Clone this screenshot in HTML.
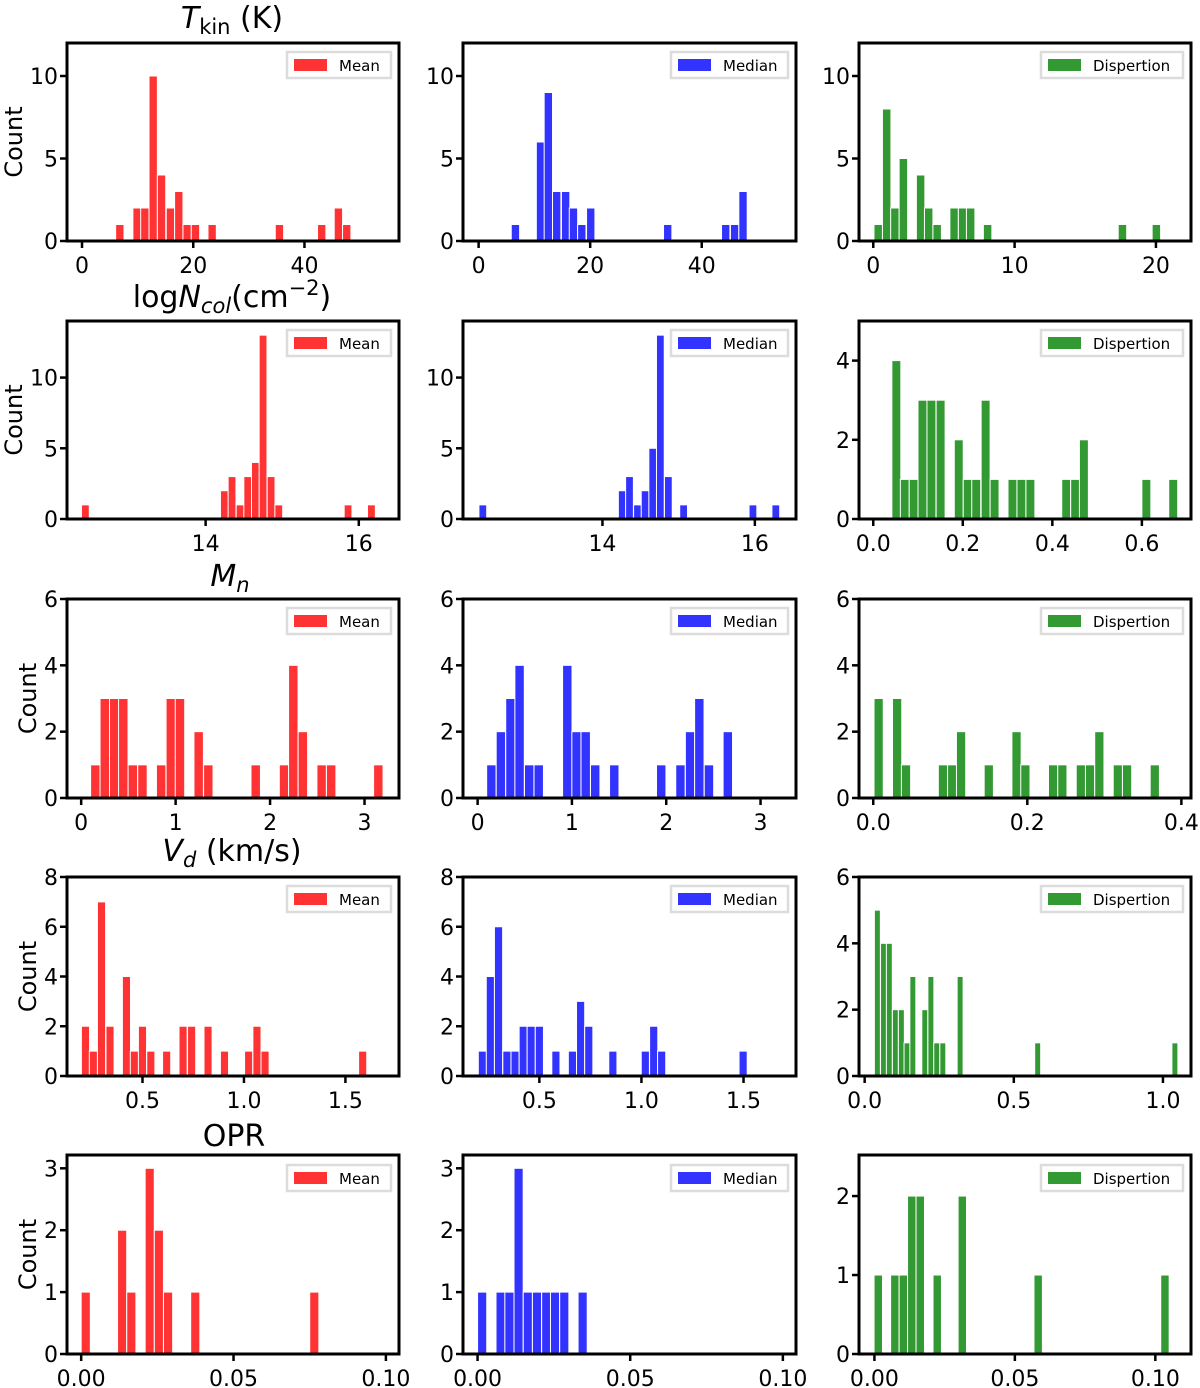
<!DOCTYPE html>
<html><head><meta charset="utf-8"><style>
html,body{margin:0;padding:0;background:#fff;}
svg{display:block;font-family:"DejaVu Sans","Liberation Sans",sans-serif;}
</style></head><body>
<svg id="fig" width="1200" height="1388" viewBox="0 0 1200 1388" xmlns="http://www.w3.org/2000/svg"></svg>
<script>
// ---- data (bin centers and counts) ----
const tkinMeanX = [6.8,9.9,11.3,12.8,14.3,15.9,17.4,18.9,20.4,23.4,35.5,43.1,46.1,47.6];
const tkinMeanY = [1,2,2,10,4,2,3,1,1,1,1,1,2,1];
const tkinMedX = [6.6,11.1,12.5,14.0,15.6,17.0,18.5,20.1,33.9,44.3,45.9,47.4];
const tkinMedY = [1,6,9,3,3,2,1,2,1,1,1,3];
const tkinDispX = [0.35,0.95,1.53,2.13,3.35,3.92,4.52,5.72,6.32,6.89,8.09,17.63,20.03];
const tkinDispY = [1,8,2,5,4,2,1,2,2,2,1,1,1];
const ncolMeanX = [12.43,14.245,14.345,14.45,14.55,14.65,14.75,14.855,14.955,15.86,16.165];
const ncolMeanY = [1,2,3,1,3,4,13,3,1,1,1];
const ncolMedX = [12.43,14.26,14.355,14.46,14.56,14.66,14.76,14.865,15.065,15.975,16.275];
const ncolMedY = [1,2,3,1,2,5,13,3,1,1,1];
const ncolDispX = [0.0516,0.0705,0.0903,0.110,0.130,0.1505,0.191,0.211,0.230,0.251,0.271,0.311,0.331,0.351,0.431,0.451,0.4705,0.610,0.670];
const ncolDispY = [4,1,1,3,3,3,2,1,1,3,1,1,1,1,1,1,2,1,1];
const mnMeanX = [0.15,0.25,0.35,0.446,0.547,0.649,0.847,0.949,1.046,1.244,1.346,1.848,2.148,2.246,2.347,2.546,2.647,3.146];
const mnMeanY = [1,3,3,3,1,1,1,3,3,2,1,1,1,4,2,1,1,1];
const mnMedX = [0.146,0.247,0.348,0.445,0.547,0.648,0.951,1.049,1.146,1.247,1.449,1.947,2.151,2.253,2.351,2.453,2.653];
const mnMedY = [1,2,3,4,1,1,4,2,2,1,1,1,1,2,3,1,2];
const mnDispX = [0.007,0.031,0.0425,0.0905,0.1025,0.114,0.15,0.186,0.1975,0.2335,0.2455,0.2695,0.2815,0.2935,0.3175,0.3295,0.3655];
const mnDispY = [3,3,1,1,1,2,1,2,1,1,1,1,1,2,1,1,1];
const vdMeanX = [0.219,0.258,0.298,0.340,0.421,0.460,0.5,0.541,0.619,0.700,0.742,0.823,0.904,1.023,1.064,1.104,1.585];
const vdMeanY = [2,1,7,2,4,1,2,1,1,2,2,2,1,1,2,1,1];
const vdMedX = [0.221,0.260,0.300,0.341,0.381,0.421,0.460,0.5,0.581,0.662,0.702,0.742,0.86,1.019,1.06,1.099,1.498];
const vdMedY = [1,4,6,1,1,2,2,2,1,1,3,2,1,1,2,1,1];
const vdDispX = [0.0426,0.0633,0.0827,0.103,0.123,0.142,0.1615,0.2016,0.222,0.2416,0.262,0.320,0.580,1.040];
const vdDispY = [5,4,4,2,2,1,3,2,3,1,1,3,1,1];
const oprMeanX = [0.0015,0.01344,0.01646,0.02249,0.0255,0.02852,0.03744,0.0765];
const oprMeanY = [1,2,1,3,2,1,1,1];
const oprMedX = [0.0015,0.00754,0.01043,0.01344,0.01646,0.01947,0.02249,0.02538,0.0284,0.03442];
const oprMedY = [1,1,1,3,1,1,1,1,1,1];
const oprDispX = [0.00137,0.00727,0.01029,0.0133,0.01632,0.02236,0.03128,0.0583,0.10343];
const oprDispY = [1,1,1,2,2,1,2,1,1];

const binW = [1.5,1.5,0.6, 0.102,0.102,0.02, 0.1,0.1,0.012, 0.04,0.04,0.02, 0.003,0.003,0.003];
const xTicks = [[0,20,40],[0,20,40],[0,10,20],[14,16],[14,16],[0,0.2,0.4,0.6],[0,1,2,3],[0,1,2,3],[0,0.2,0.4],[0.5,1.0,1.5],[0.5,1.0,1.5],[0,0.5,1.0],[0,0.05,0.1],[0,0.05,0.1],[0,0.05,0.1]];
const xTickLabels = [["0","20","40"],["0","20","40"],["0","10","20"],["14","16"],["14","16"],["0.0","0.2","0.4","0.6"],["0","1","2","3"],["0","1","2","3"],["0.0","0.2","0.4"],["0.5","1.0","1.5"],["0.5","1.0","1.5"],["0.0","0.5","1.0"],["0.00","0.05","0.10"],["0.00","0.05","0.10"],["0.00","0.05","0.10"]];
const yTicks = [[0,5,10],[0,5,10],[0,5,10],[0,5,10],[0,5,10],[0,2,4],[0,2,4,6],[0,2,4,6],[0,2,4,6],[0,2,4,6,8],[0,2,4,6,8],[0,2,4,6],[0,1,2,3],[0,1,2,3],[0,1,2]];
const xLims = [[-2.7,57.0],[-2.8,56.9],[-1.01,22.48],[12.19,16.525],[12.17,16.54],[-0.0318,0.7097],[-0.15,3.365],[-0.155,3.376],[-0.0185,0.4125],[0.128,1.764],[0.126,1.757],[-0.019,1.094],[-0.00465,0.1043],[-0.00477,0.1043],[-0.00549,0.1127]];
const yMax = [12,12,12,14,14,5,6,6,6,8,8,6,3.215,3.215,2.52];
const seriesX = [tkinMeanX,tkinMedX,tkinDispX,ncolMeanX,ncolMedX,ncolDispX,mnMeanX,mnMedX,mnDispX,vdMeanX,vdMedX,vdDispX,oprMeanX,oprMedX,oprDispX];
const seriesY = [tkinMeanY,tkinMedY,tkinDispY,ncolMeanY,ncolMedY,ncolDispY,mnMeanY,mnMedY,mnDispY,vdMeanY,vdMedY,vdDispY,oprMeanY,oprMedY,oprDispY];
const legendLabels = ["Mean","Median","Dispertion"];

// ---- layout ----
const colX = [[67,399],[463,796],[859,1191]];
const rowY = [[43,241],[321,519],[599,798],[877,1076],[1155,1354]];
const colors = ["rgb(255,51,51)","rgb(51,51,255)","rgb(51,153,51)"];
const rowNames = ["tkin","ncol","mn","vd","opr"];
const colNames = ["mean","median","dispertion"];
const NS = "http://www.w3.org/2000/svg";
const svg = document.getElementById("fig");
function mk(tag, attrs, parent){const e=document.createElementNS(NS,tag);for(const k in attrs)e.setAttribute(k,attrs[k]);(parent||svg).appendChild(e);return e;}

for(let r=0;r<5;r++){
  for(let c=0;c<3;c++){
    const i=r*3+c;
    const [x0,x1]=colX[c],[y0,y1]=rowY[r];
    const [xa,xb]=xLims[i];
    const sx=v=>x0+(v-xa)/(xb-xa)*(x1-x0);
    const sy=v=>y1-v/yMax[i]*(y1-y0);
    const g=mk("g",{});
    
    
    const xs=seriesX[i], ys=seriesY[i];
    for(let k=0;k<xs.length;k++){
      const left=sx(xs[k]-binW[i]/2), right=sx(xs[k]+binW[i]/2);
      const b=mk("rect",{x:left,y:sy(ys[k]),width:Math.max(1,right-left),height:y1-sy(ys[k]),fill:colors[c],stroke:"#fff","stroke-width":1},g);
      
      
    }
    xTicks[i].forEach((t,j)=>{
      const px=sx(t);
      mk("line",{x1:px,x2:px,y1:y1,y2:y1+7,stroke:"#000","stroke-width":2.5},g);
      const tl=mk("text",{x:px,y:y1+32,"text-anchor":"middle","font-size":22,fill:"#000"},g);
      tl.textContent=xTickLabels[i][j];
      
      
    });
    yTicks[i].forEach(t=>{
      const py=sy(t);
      mk("line",{x1:x0-7,x2:x0,y1:py,y2:py,stroke:"#000","stroke-width":2.5},g);
      const tl=mk("text",{x:x0-9,y:py+8,"text-anchor":"end","font-size":22,fill:"#000"},g);
      tl.textContent=String(t);
      
      
    });
    const frame=mk("rect",{x:x0,y:y0,width:x1-x0,height:y1-y0,fill:"none",stroke:"#000","stroke-width":3},g);
    
    
    const lw=[104,117,142][c];
    const ly=y0+(r===4?10:9);
    const lg=mk("g",{},g);
    
    
    mk("rect",{x:x1-8-lw,y:ly,width:lw,height:26,fill:"#fff",stroke:"#dcdcdc","stroke-width":2.5},lg);
    mk("rect",{x:x1-8-lw+7,y:ly+7,width:33,height:12,fill:colors[c]},lg);
    const lt=mk("text",{x:x1-8-lw+52,y:ly+19,"font-size":15,fill:"#000"},lg);
    lt.textContent=legendLabels[c];
    
    
    if(c===0){
      const cx=r<2?14:28, cy=(y0+y1)/2;
      const yl=mk("text",{x:cx,y:cy,"text-anchor":"middle","font-size":24,transform:`rotate(-90 ${cx} ${cy})`,dy:8,fill:"#000"},g);
      yl.textContent="Count";
      
      
    }
  }
}
</script>
<svg width="1200" height="1388" style="position:absolute;left:0;top:0" xmlns="http://www.w3.org/2000/svg" font-family="DejaVu Sans, Liberation Sans, sans-serif" font-size="30">
  <text x="232" y="28" text-anchor="middle"><tspan font-style="italic">T</tspan><tspan font-size="21" dy="6">kin</tspan><tspan dy="-6"> (K)</tspan></text>
  <text x="232" y="307" text-anchor="middle">log<tspan font-style="italic">N</tspan><tspan font-style="italic" font-size="21" dy="6">col</tspan><tspan dy="-6">(cm</tspan><tspan font-size="21" dy="-12">−2</tspan><tspan dy="12">)</tspan></text>
  <text x="230" y="586" text-anchor="middle"><tspan font-style="italic">M</tspan><tspan font-style="italic" font-size="21" dy="6">n</tspan></text>
  <text x="232" y="861" text-anchor="middle"><tspan font-style="italic">V</tspan><tspan font-style="italic" font-size="21" dy="6">d</tspan><tspan dy="-6"> (km/s)</tspan></text>
  <text x="234" y="1146" text-anchor="middle">OPR</text>
</svg>
</body></html>
